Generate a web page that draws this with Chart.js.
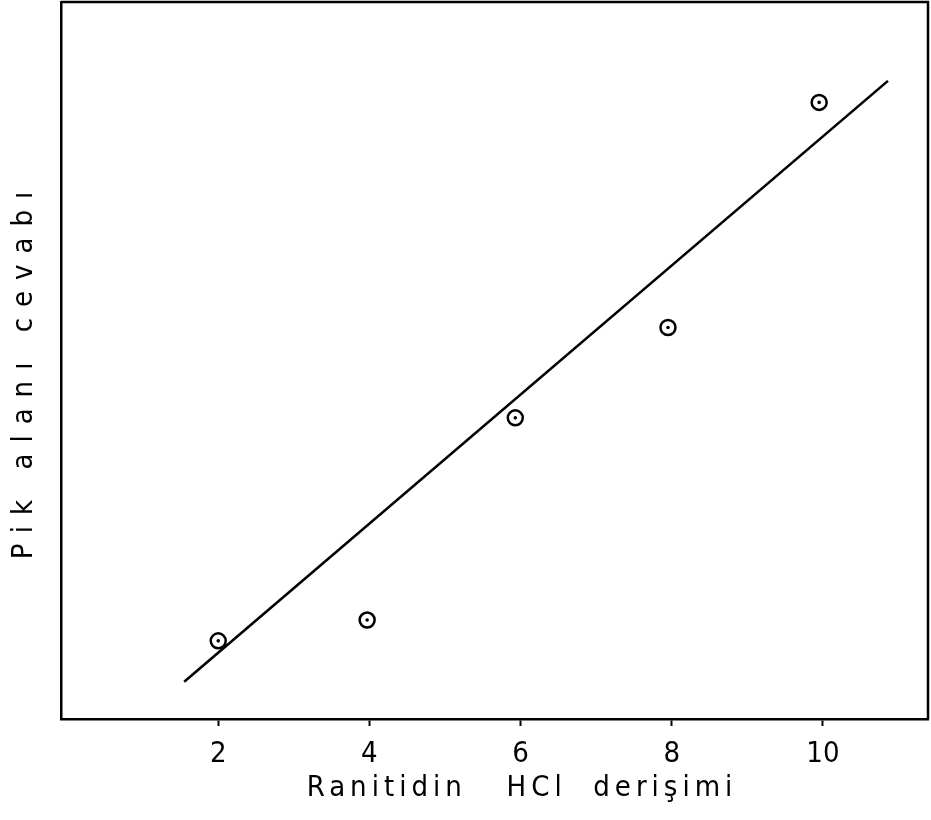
<!DOCTYPE html>
<html>
<head>
<meta charset="utf-8">
<script src="https://cdn.jsdelivr.net/npm/chart.js@4.4.0/dist/chart.umd.min.js"></script>
<style>
  html, body { margin: 0; padding: 0; background: #fff; }
  #wrap { width: 931px; height: 820px; }
</style>
</head>
<body>
<div id="wrap"><canvas id="calib" width="931" height="820"></canvas></div>
<script>
// okunan degerler (x: derisim, y: pik alani, keyfi birim)
const xTicks = [2, 4, 6, 8, 10];
const pointX = [2.0, 3.97, 5.93, 7.95, 9.95];
const pointY = [10.9, 13.8, 42.0, 54.6, 86.0];
const fitX = [1.55, 10.86];
const fitY = [5.2, 89.0];
const xTitle = "Ranitidin   HCl  derişimi";
const yTitle = "Pik alanı cevabı";

const FONT = "'Liberation Sans Narrow', 'DejaVu Sans Condensed', 'Liberation Sans', sans-serif";

const points = pointX.map((x, i) => ({ x: x, y: pointY[i] }));
const fitLine = fitX.map((x, i) => ({ x: x, y: fitY[i] }));

// cerceve (ust ve sag kenar) + eksen basliklari
const framePlugin = {
  id: "frame",
  afterDraw(chart) {
    const ctx = chart.ctx;
    const a = chart.chartArea;
    ctx.save();
    ctx.strokeStyle = "#000";
    ctx.lineWidth = 2.5;
    ctx.beginPath();
    ctx.moveTo(a.left, a.top);
    ctx.lineTo(a.right, a.top);
    ctx.lineTo(a.right, a.bottom);
    ctx.stroke();

    ctx.fillStyle = "#000";
    ctx.font = "29px " + FONT;
    ctx.letterSpacing = "5px";
    ctx.textAlign = "center";
    ctx.textBaseline = "middle";
    ctx.fillText(xTitle, 522, 788);

    ctx.translate(24, 375);
    ctx.rotate(-Math.PI / 2);
    ctx.font = "29px " + FONT;
    ctx.letterSpacing = "11px";
    ctx.fillText(yTitle, 5, 0);
    ctx.restore();
  },
};

new Chart(document.getElementById("calib"), {
  type: "scatter",
  data: {
    datasets: [
      {
        type: "line",
        data: fitLine,
        borderColor: "#000",
        borderWidth: 2.6,
        pointRadius: 0,
        fill: false,
      },
      {
        data: points,
        pointStyle: "circle",
        pointRadius: 7.5,
        borderColor: "#000",
        borderWidth: 2.5,
        backgroundColor: "rgba(0,0,0,0)",
      },
      {
        data: points,
        pointStyle: "circle",
        pointRadius: 1.8,
        borderWidth: 0,
        backgroundColor: "#000",
      },
    ],
  },
  options: {
    responsive: false,
    animation: false,
    layout: { autoPadding: false, padding: { left: 61, top: 2, right: 3, bottom: 51 } },
    plugins: {
      legend: { display: false },
      tooltip: { enabled: false },
    },
    scales: {
      x: {
        type: "linear",
        min: -0.08,
        max: 11.39,
        afterBuildTicks: (scale) => {
          scale.ticks = xTicks.map((v) => ({ value: v }));
        },
        afterFit: (scale) => {
          scale.height = 50;
        },
        border: { color: "#000", width: 2.5 },
        grid: {
          drawOnChartArea: false,
          tickLength: 7,
          tickColor: "#000",
          tickWidth: 2,
        },
        ticks: {
          color: "#000",
          padding: 11,
          maxRotation: 0,
          font: { family: FONT, size: 29 },
        },
      },
      y: {
        min: 0,
        max: 100,
        afterFit: (scale) => {
          scale.width = 0;
        },
        border: { color: "#000", width: 2.5 },
        grid: { drawOnChartArea: false, drawTicks: false },
        ticks: { display: false },
      },
    },
  },
  plugins: [framePlugin],
});
</script>
</body>
</html>
